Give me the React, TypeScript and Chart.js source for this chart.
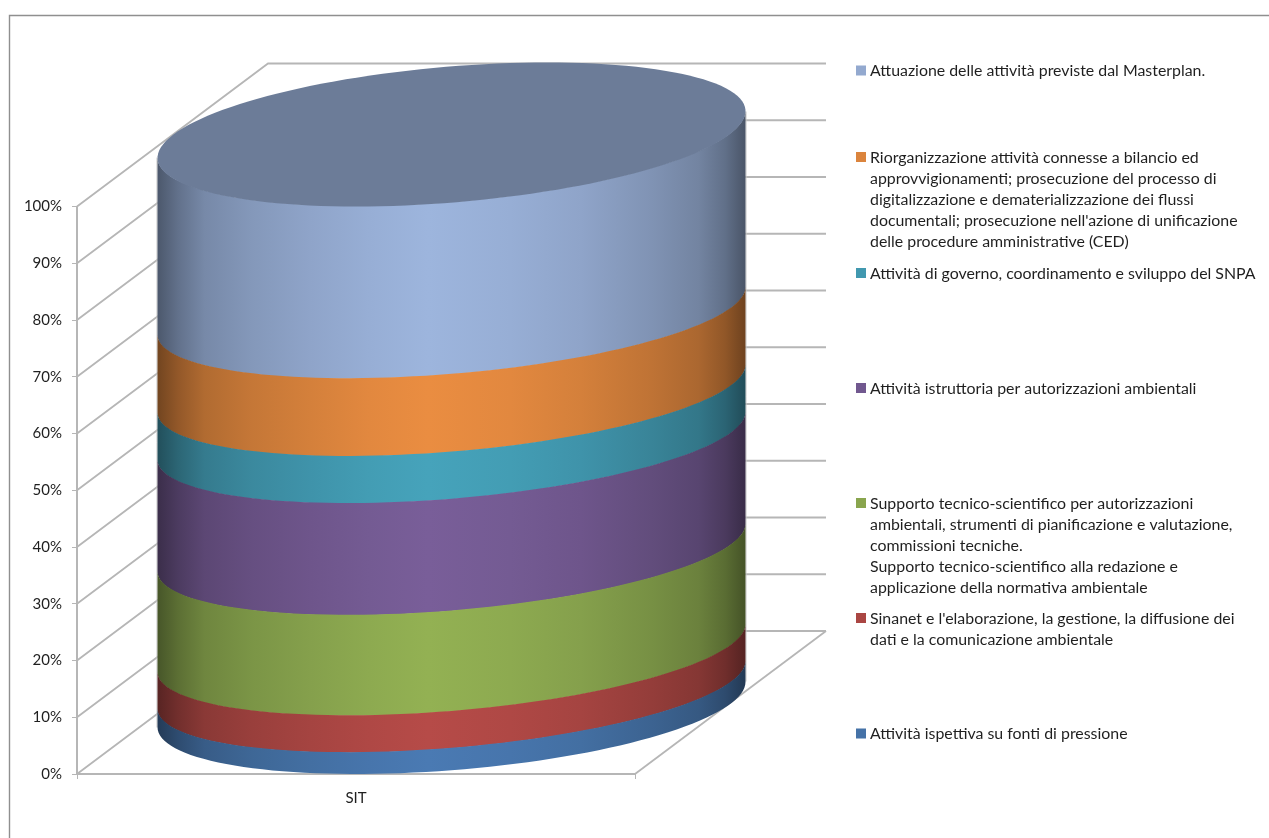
import React, { useEffect, useRef } from "react";
import { Chart, BarController, BarElement, CategoryScale, LinearScale } from "chart.js";

// Share of each activity in the single stacked column, bottom to top.
const categories = ["SIT"];
const ispettiva = [2.6];
const sinanet = [6.5];
const supportoTecnico = [17.7];
const istruttoria = [19.7];
const governoSnpa = [8.3];
const riorganizzazione = [13.7];
const masterplan = [31.5];

const seriesValues = [ispettiva, sinanet, supportoTecnico, istruttoria, governoSnpa, riorganizzazione, masterplan];
const seriesColors = ["#4572a7", "#aa4643", "#89a54e", "#71588f", "#4198af", "#db843d", "#93a9cf"];
const seriesLabels = [
  ["Attività ispettiva su fonti di pressione"],
  ["Sinanet e l'elaborazione, la gestione, la diffusione dei", "dati e la comunicazione ambientale"],
  [
    "Supporto tecnico-scientifico per autorizzazioni",
    "ambientali, strumenti di pianificazione e valutazione,",
    "commissioni tecniche.",
    "Supporto tecnico-scientifico alla redazione e",
    "applicazione della normativa ambientale",
  ],
  ["Attività istruttoria per autorizzazioni ambientali"],
  ["Attività di governo, coordinamento e sviluppo del SNPA"],
  [
    "Riorganizzazione attività connesse a bilancio ed",
    "approvvigionamenti; prosecuzione del processo di",
    "digitalizzazione e dematerializzazione dei flussi",
    "documentali; prosecuzione nell'azione di unificazione",
    "delle procedure amministrative (CED)",
  ],
  ["Attuazione delle attività previste dal Masterplan."],
];
const legendFirstLineY = [734, 618.5, 503.5, 388.5, 273.5, 157.5, 71];

const FONT = "Lato, Carlito, sans-serif";
const TEXT_COLOR = "#1f1f1f";
const GRID_COLOR = "#b6b6b6";

// Oblique projection of the box that holds the column.
const DEPTH_X = 191;
const DEPTH_Y = 143;
const HALF_WIDTH = 294;

// Brightness across the curved side, from its left edge to its right edge.
const SIDE_SHADING: [number, number][] = [
  [0, 0.52], [0.035, 0.67], [0.08, 0.81], [0.16, 0.9], [0.26, 0.97], [0.36, 1.03], [0.46, 1.07],
  [0.6, 1.03], [0.72, 0.97], [0.84, 0.87], [0.92, 0.78], [0.965, 0.66], [1, 0.5],
];

type Ring = { cy: number; dx: number; dy: number };

function shade(hex: string, f: number) {
  const n = parseInt(hex.slice(1), 16);
  const ch = (v: number) => Math.max(0, Math.min(255, Math.round(v * f)));
  return `rgb(${ch((n >> 16) & 255)},${ch((n >> 8) & 255)},${ch(n & 255)})`;
}

// A horizontal circle of the cylinder at pixel height y on the front plane.
function ringAt(y: number, top: number, bottom: number): Ring {
  if (Math.abs(y - top) < 2) return { cy: y - 72, dx: 95.5, dy: 72 };
  if (Math.abs(y - bottom) < 2) return { cy: bottom - 69.5, dx: 95.5, dy: 69.5 };
  return { cy: y - 74, dx: 104, dy: 67.5 };
}

function frontArc(cx: number, r: Ring) {
  const a = Math.sqrt(HALF_WIDTH * HALF_WIDTH - r.dx * r.dx);
  const tr = Math.atan2(r.dx, a);
  const pts: number[][] = [];
  const n = 72;
  for (let i = 0; i <= n; i++) {
    const t = tr + Math.PI + (Math.PI * i) / n;
    pts.push([cx + Math.cos(t) * a + Math.sin(t) * r.dx, r.cy - Math.sin(t) * r.dy]);
  }
  return pts;
}

class CylinderController extends BarController {
  static id = "cylinder";
  static defaults = BarController.defaults;
  static overrides = BarController.overrides;

  draw() {
    const ctx = (this as any)._ctx as CanvasRenderingContext2D;
    const chart = this.chart;
    const yScale = chart.scales.y;
    const top = yScale.getPixelForValue(100);
    const bottom = yScale.getPixelForValue(0);
    const isTop = this.index === chart.data.datasets.length - 1;
    const color = (this.getDataset() as any).backgroundColor as string;
    for (const el of this.getMeta().data as any[]) {
      const cx = el.x + DEPTH_X / 2;
      const hw = HALF_WIDTH;
      const upper = frontArc(cx, ringAt(el.y, top, bottom));
      const lower = frontArc(cx, ringAt(el.base, top, bottom));
      const grad = ctx.createLinearGradient(cx - hw, 0, cx + hw, 0);
      for (const [p, f] of SIDE_SHADING) grad.addColorStop(p, shade(color, f));
      ctx.save();
      if (isTop) {
        // Pale outline along both vertical edges of the column.
        const capRing = ringAt(el.y, top, bottom);
        const footRing = ringAt(bottom, top, bottom);
        ctx.strokeStyle = "#c4c4c4";
        ctx.lineWidth = 1;
        ctx.beginPath();
        ctx.moveTo(cx - hw - 0.5, capRing.cy + 23);
        ctx.lineTo(cx - hw - 0.5, footRing.cy + 23);
        ctx.moveTo(cx + hw + 0.5, capRing.cy - 23);
        ctx.lineTo(cx + hw + 0.5, footRing.cy - 23);
        ctx.stroke();
      }
      ctx.beginPath();
      lower.forEach(([x, y], i) => (i ? ctx.lineTo(x, y) : ctx.moveTo(x, y)));
      for (let i = upper.length - 1; i >= 0; i--) ctx.lineTo(upper[i][0], upper[i][1] - 0.6);
      ctx.closePath();
      ctx.fillStyle = grad;
      ctx.fill();
      if (isTop) {
        const cap = ringAt(el.y, top, bottom);
        const a = Math.sqrt(hw * hw - cap.dx * cap.dx);
        ctx.beginPath();
        for (let i = 0; i <= 144; i++) {
          const t = (i * Math.PI) / 72;
          const x = cx + Math.cos(t) * a + Math.sin(t) * cap.dx;
          const y = cap.cy - Math.sin(t) * cap.dy;
          if (i) ctx.lineTo(x, y);
          else ctx.moveTo(x, y);
        }
        ctx.closePath();
        ctx.fillStyle = shade(color, 0.735);
        ctx.fill();
      }
      ctx.restore();
    }
  }
}

Chart.register(CylinderController, BarElement, CategoryScale, LinearScale);

// Frame of the chart area, which only shows on its top and left sides.
const framePlugin = {
  id: "frame",
  beforeDraw(chart: Chart) {
    const { ctx, width, height } = chart;
    ctx.save();
    ctx.strokeStyle = "#8f8f8f";
    ctx.lineWidth = 1.4;
    ctx.beginPath();
    ctx.moveTo(9.5, height);
    ctx.lineTo(9.5, 15.5);
    ctx.lineTo(width, 15.5);
    ctx.stroke();
    ctx.restore();
  },
};

// Gridlines running up the side wall and along the back wall of the box.
const wallsPlugin = {
  id: "walls",
  beforeDatasetsDraw(chart: Chart) {
    const { ctx, chartArea: area } = chart;
    const y = chart.scales.y;
    ctx.save();
    ctx.strokeStyle = GRID_COLOR;
    ctx.lineWidth = 1.8;
    for (const tick of y.ticks) {
      const py = y.getPixelForValue(tick.value);
      ctx.beginPath();
      ctx.moveTo(area.left, py);
      ctx.lineTo(area.left + DEPTH_X, py - DEPTH_Y);
      ctx.lineTo(area.right + DEPTH_X, py - DEPTH_Y);
      ctx.stroke();
    }
    ctx.beginPath();
    ctx.moveTo(area.right, area.bottom);
    ctx.lineTo(area.right + DEPTH_X, area.bottom - DEPTH_Y);
    ctx.stroke();
    ctx.restore();
  },
};

// Key on the right: one swatch per series, with wrapped text.
const sideLegendPlugin = {
  id: "sideLegend",
  afterDraw(chart: Chart) {
    const { ctx } = chart;
    ctx.save();
    ctx.font = `15.9px ${FONT}`;
    ctx.textBaseline = "middle";
    chart.data.datasets.forEach((ds: any, i: number) => {
      const y0 = legendFirstLineY[i];
      ctx.fillStyle = ds.backgroundColor;
      ctx.fillRect(856, y0 - 5.5, 10, 10);
      ctx.fillStyle = TEXT_COLOR;
      seriesLabels[i].forEach((line, j) => ctx.fillText(line, 870, y0 + j * 21.2));
    });
    ctx.restore();
  },
};

export default function App() {
  const ref = useRef<HTMLCanvasElement>(null);

  useEffect(() => {
    if (!ref.current) return;
    const chart = new Chart(ref.current, {
      type: "cylinder" as any,
      data: {
        labels: categories,
        datasets: seriesValues.map((data, i) => ({
          label: seriesLabels[i].join(" "),
          data,
          backgroundColor: seriesColors[i],
          barPercentage: 1,
          categoryPercentage: 1,
          clip: false as any,
        })),
      },
      options: {
        responsive: false,
        animation: false,
        layout: { padding: { top: 206.5, right: 634, bottom: 0, left: 0 } },
        plugins: { legend: { display: false }, tooltip: { enabled: false } },
        scales: {
          x: {
            stacked: true,
            afterFit: (s: any) => {
              s.height = 64;
            },
            border: { color: GRID_COLOR, width: 2 },
            grid: { drawOnChartArea: false, drawTicks: true, tickLength: 5, color: GRID_COLOR },
            ticks: { color: TEXT_COLOR, font: { family: FONT, size: 15 }, padding: 10, maxRotation: 0 },
          },
          y: {
            stacked: true,
            min: 0,
            max: 100,
            afterFit: (s: any) => {
              s.width = 77;
            },
            border: { color: GRID_COLOR, width: 2 },
            grid: { drawOnChartArea: false, drawTicks: true, tickLength: 5, color: GRID_COLOR },
            ticks: {
              stepSize: 10,
              color: TEXT_COLOR,
              font: { family: FONT, size: 15 },
              padding: 10,
              callback: (v: any) => `${v}%`,
            },
          },
        },
      },
      plugins: [framePlugin, wallsPlugin, sideLegendPlugin],
    } as any);
    return () => chart.destroy();
  }, []);

  return (
    <canvas
      ref={ref}
      width={1269}
      height={838}
      style={{ position: "fixed", left: 0, top: 0, display: "block" }}
    />
  );
}
